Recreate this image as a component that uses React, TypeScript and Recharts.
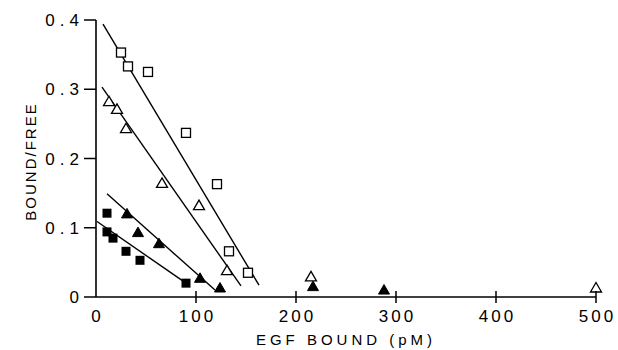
import React from 'react'
import { ComposedChart, Scatter, XAxis, YAxis, Label } from 'recharts'

// open squares
const openSquareX = [25, 32, 52, 90, 121, 133, 152]
const openSquareY = [0.353, 0.333, 0.325, 0.237, 0.163, 0.066, 0.035]
// open triangles
const openTriX = [13, 21, 30, 66, 103, 131, 215, 500]
const openTriY = [0.282, 0.271, 0.243, 0.164, 0.132, 0.038, 0.029, 0.013]
// filled squares
const filledSquareX = [11, 11, 17, 30, 44, 90]
const filledSquareY = [0.121, 0.094, 0.085, 0.066, 0.053, 0.02]
// filled triangles
const filledTriX = [31, 42, 63, 104, 124, 217, 288]
const filledTriY = [0.12, 0.093, 0.077, 0.027, 0.013, 0.015, 0.01]

// fitted lines (end points)
const openSquareFitX = [7, 163]
const openSquareFitY = [0.394, 0.017]
const openTriFitX = [6, 145]
const openTriFitY = [0.303, 0.016]
const filledTriFitX = [11, 119]
const filledTriFitY = [0.149, 0.01]
const filledSquareFitX = [1, 90]
const filledSquareFitY = [0.109, 0.02]

const xTicks = [0, 100, 200, 300, 400, 500]
const yTicks = [0, 0.1, 0.2, 0.3, 0.4]

const pts = (xs: number[], ys: number[]) => xs.map((x, i) => ({ x, y: ys[i] }))

const FONT = '"Liberation Sans", Arial, sans-serif'

const OpenSquare = (p: any) => (
  <rect x={p.cx - 4.5} y={p.cy - 4.5} width={9} height={9} fill="#fff" stroke="#000" strokeWidth={1.3} />
)
const FilledSquare = (p: any) => (
  <rect x={p.cx - 4.5} y={p.cy - 4.5} width={9} height={9} fill="#000" />
)
const tri = (cx: number, cy: number) => `M${cx},${cy - 5.5} L${cx + 5.5},${cy + 4} L${cx - 5.5},${cy + 4} Z`
const OpenTri = (p: any) => <path d={tri(p.cx, p.cy)} fill="#fff" stroke="#000" strokeWidth={1.3} />
const FilledTri = (p: any) => <path d={tri(p.cx, p.cy)} fill="#000" stroke="#000" strokeWidth={1} />
const NoDot = () => <g />

const XTick = (p: any) => {
  const { x, y, payload } = p
  return (
    <g>
      {payload.value !== 0 && (
        <line x1={x} x2={x} y1={y - 6} y2={y + 6} stroke="#000" strokeWidth={1.5} />
      )}
      <text x={x + 1.5} y={y + 25} textAnchor="middle" fontSize={17} fontFamily={FONT} letterSpacing={3} fill="#000">
        {payload.value}
      </text>
    </g>
  )
}

const lineStyle = { stroke: '#000', strokeWidth: 1.4 }

export default function App() {
  return (
    <div style={{ position: 'absolute', left: 0, top: 0, background: '#fff' }}>
      <ComposedChart width={618} height={350} margin={{ top: 20, right: 22, bottom: 0, left: 0 }}>
        <XAxis
          type="number"
          dataKey="x"
          domain={[0, 500]}
          ticks={xTicks}
          height={53}
          tickSize={0}
          tickMargin={0}
          tickLine={false}
          tick={<XTick />}
          axisLine={{ stroke: '#000', strokeWidth: 1.6 }}
        >
          <Label
            value="EGF BOUND (pM)"
            position="insideBottom"
            offset={5}
            style={{ fontSize: 15, fontFamily: FONT, letterSpacing: 4, fill: '#000' }}
          />
        </XAxis>
        <YAxis
          type="number"
          dataKey="y"
          domain={[0, 0.4]}
          ticks={yTicks}
          width={96}
          tickSize={12}
          tickMargin={0}
          tickFormatter={(v: number) => (v === 0 ? '0' : v.toFixed(1))}
          tick={{ fontSize: 17, fontFamily: FONT, fill: '#000', letterSpacing: 5 }}
          tickLine={{ stroke: '#000', strokeWidth: 1.5 }}
          axisLine={{ stroke: '#000', strokeWidth: 1.6 }}
        >
          <Label
            content={(props: any) => {
              const vb = props.viewBox
              const cx = 30
              const cy = vb.y + vb.height / 2 + 3
              return (
                <text
                  x={cx}
                  y={cy}
                  transform={`rotate(-90 ${cx} ${cy})`}
                  textAnchor="middle"
                  dominantBaseline="central"
                  fontSize={15}
                  fontFamily={FONT}
                  letterSpacing={2}
                  fill="#000"
                >
                  BOUND/FREE
                </text>
              )
            }}
          />
        </YAxis>
        <Scatter data={pts(openSquareFitX, openSquareFitY)} line={lineStyle} shape={<NoDot />} isAnimationActive={false} />
        <Scatter data={pts(openTriFitX, openTriFitY)} line={lineStyle} shape={<NoDot />} isAnimationActive={false} />
        <Scatter data={pts(filledTriFitX, filledTriFitY)} line={lineStyle} shape={<NoDot />} isAnimationActive={false} />
        <Scatter data={pts(filledSquareFitX, filledSquareFitY)} line={lineStyle} shape={<NoDot />} isAnimationActive={false} />
        <Scatter data={pts(openSquareX, openSquareY)} shape={<OpenSquare />} isAnimationActive={false} />
        <Scatter data={pts(openTriX, openTriY)} shape={<OpenTri />} isAnimationActive={false} />
        <Scatter data={pts(filledSquareX, filledSquareY)} shape={<FilledSquare />} isAnimationActive={false} />
        <Scatter data={pts(filledTriX, filledTriY)} shape={<FilledTri />} isAnimationActive={false} />
      </ComposedChart>
    </div>
  )
}
